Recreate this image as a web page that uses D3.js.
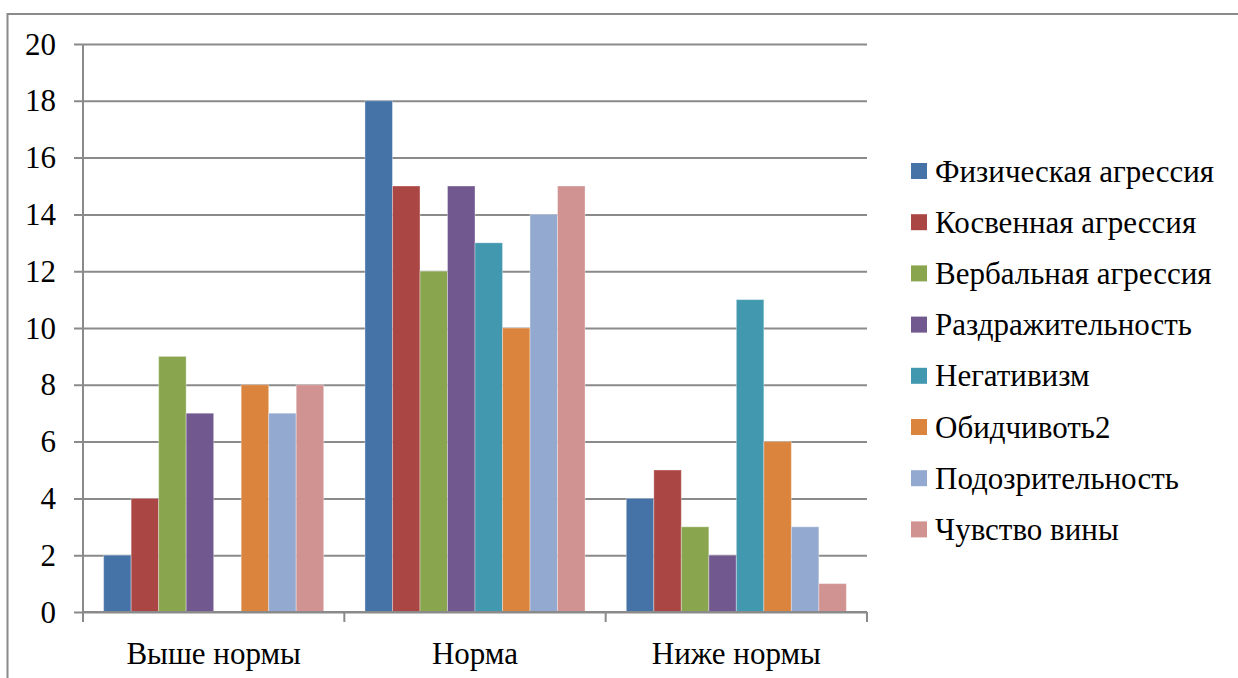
<!DOCTYPE html>
<html>
<head>
<meta charset="utf-8">
<script src="https://cdn.jsdelivr.net/npm/d3@7"></script>
<style>
  html, body { margin: 0; padding: 0; background: #fff; }
  svg { display: block; }
</style>
</head>
<body>
<svg id="chart" width="1238" height="678"></svg>
<script>
// Category groups along the x axis
const categories = ["Выше нормы", "Норма", "Ниже нормы"];

// One series per scale; values follow the category order above
const seriesNames = [
  "Физическая агрессия",
  "Косвенная агрессия",
  "Вербальная агрессия",
  "Раздражительность",
  "Негативизм",
  "Обидчивоть2",
  "Подозрительность",
  "Чувство вины"
];
const physical    = [2, 18, 4];
const indirect    = [4, 15, 5];
const verbal      = [9, 12, 3];
const irritation  = [7, 15, 2];
const negativism  = [0, 13, 11];
const resentment  = [8, 10, 6];
const suspicion   = [7, 14, 3];
const guilt       = [8, 15, 1];
const seriesValues = [physical, indirect, verbal, irritation, negativism, resentment, suspicion, guilt];

const seriesColors = ["#4572A7", "#AA4643", "#89A54E", "#71588F", "#4198AF", "#DB843D", "#93A9CF", "#D19392"];

const yTicks = [0, 2, 4, 6, 8, 10, 12, 14, 16, 18, 20];

const FONT = "'Times New Roman', Tinos, 'Noto Serif', 'Liberation Serif', 'DejaVu Serif', serif";
const svg = d3.select("#chart");
const gridColor = "#8a8a8a";

// Outer chart frame
svg.append("rect")
  .attr("x", 7.5).attr("y", 14).attr("width", 1240).attr("height", 680)
  .attr("fill", "none").attr("stroke", "#8a8a8a").attr("stroke-width", 2);

const plot = { left: 83, right: 867, top: 44, bottom: 612 };

const x0 = d3.scaleBand().domain(categories).range([plot.left, plot.right]).paddingInner(0).paddingOuter(0);
const barW = x0.bandwidth() / (seriesNames.length + 1.5);
const x1 = d3.scaleBand().domain(d3.range(seriesNames.length))
  .range([0, barW * seriesNames.length]);
const y = d3.scaleLinear().domain([0, 20]).range([plot.bottom, plot.top]);

// Horizontal gridlines with tick marks on the left
const yAxis = d3.axisLeft(y).tickValues(yTicks).tickSize(-(plot.right - plot.left)).tickSizeOuter(0).tickFormat("");
const gy = svg.append("g").attr("transform", `translate(${plot.left},0)`).call(yAxis);
gy.select(".domain").remove();
gy.selectAll(".tick line").attr("stroke", gridColor).attr("stroke-width", 2).attr("x1", -9);

// Y tick labels
svg.append("g").selectAll("text").data(yTicks).join("text")
  .attr("x", 56).attr("y", d => y(d))
  .attr("text-anchor", "end").attr("dominant-baseline", "central")
  .attr("font-family", FONT).attr("font-size", 31)
  .text(d => d);

// Bars
const groups = svg.append("g").selectAll("g").data(categories).join("g")
  .attr("transform", c => `translate(${x0(c) + barW * 0.75},0)`);
groups.selectAll("rect")
  .data((c, ci) => seriesValues.map((vals, si) => ({ si, v: vals[ci] })))
  .join("rect")
  .filter(d => d.v > 0)
  .attr("x", d => x1(d.si))
  .attr("width", x1.bandwidth())
  .attr("y", d => y(d.v))
  .attr("height", d => y(0) - y(d.v))
  .attr("fill", d => seriesColors[d.si])
  .attr("stroke", "#ffffff").attr("stroke-opacity", 0.35).attr("stroke-width", 1);

// Y axis line
svg.append("line")
  .attr("x1", plot.left).attr("x2", plot.left).attr("y1", plot.top).attr("y2", plot.bottom)
  .attr("stroke", gridColor).attr("stroke-width", 2);

// X axis with category boundary ticks
const boundaries = categories.map(c => x0(c)).concat([plot.right]);
svg.append("line")
  .attr("x1", plot.left).attr("x2", plot.right).attr("y1", plot.bottom).attr("y2", plot.bottom)
  .attr("stroke", gridColor).attr("stroke-width", 2);
svg.append("g").selectAll("line").data(boundaries).join("line")
  .attr("x1", d => d).attr("x2", d => d).attr("y1", plot.bottom).attr("y2", plot.bottom + 10)
  .attr("stroke", gridColor).attr("stroke-width", 2);

// Category labels
svg.append("g").selectAll("text").data(categories).join("text")
  .attr("x", c => x0(c) + x0.bandwidth() / 2).attr("y", 653)
  .attr("text-anchor", "middle").attr("dominant-baseline", "central")
  .attr("font-family", FONT).attr("font-size", 31)
  .text(c => c);

// Legend
const legend = svg.append("g").selectAll("g").data(seriesNames).join("g")
  .attr("transform", (d, i) => `translate(911,${171 + i * 51.2})`);
legend.append("rect")
  .attr("x", 0).attr("y", -8).attr("width", 16).attr("height", 16)
  .attr("fill", (d, i) => seriesColors[i]);
legend.append("text")
  .attr("x", 24).attr("y", 0).attr("dominant-baseline", "central")
  .attr("font-family", FONT).attr("font-size", 31)
  .text(d => d);
</script>
</body>
</html>
